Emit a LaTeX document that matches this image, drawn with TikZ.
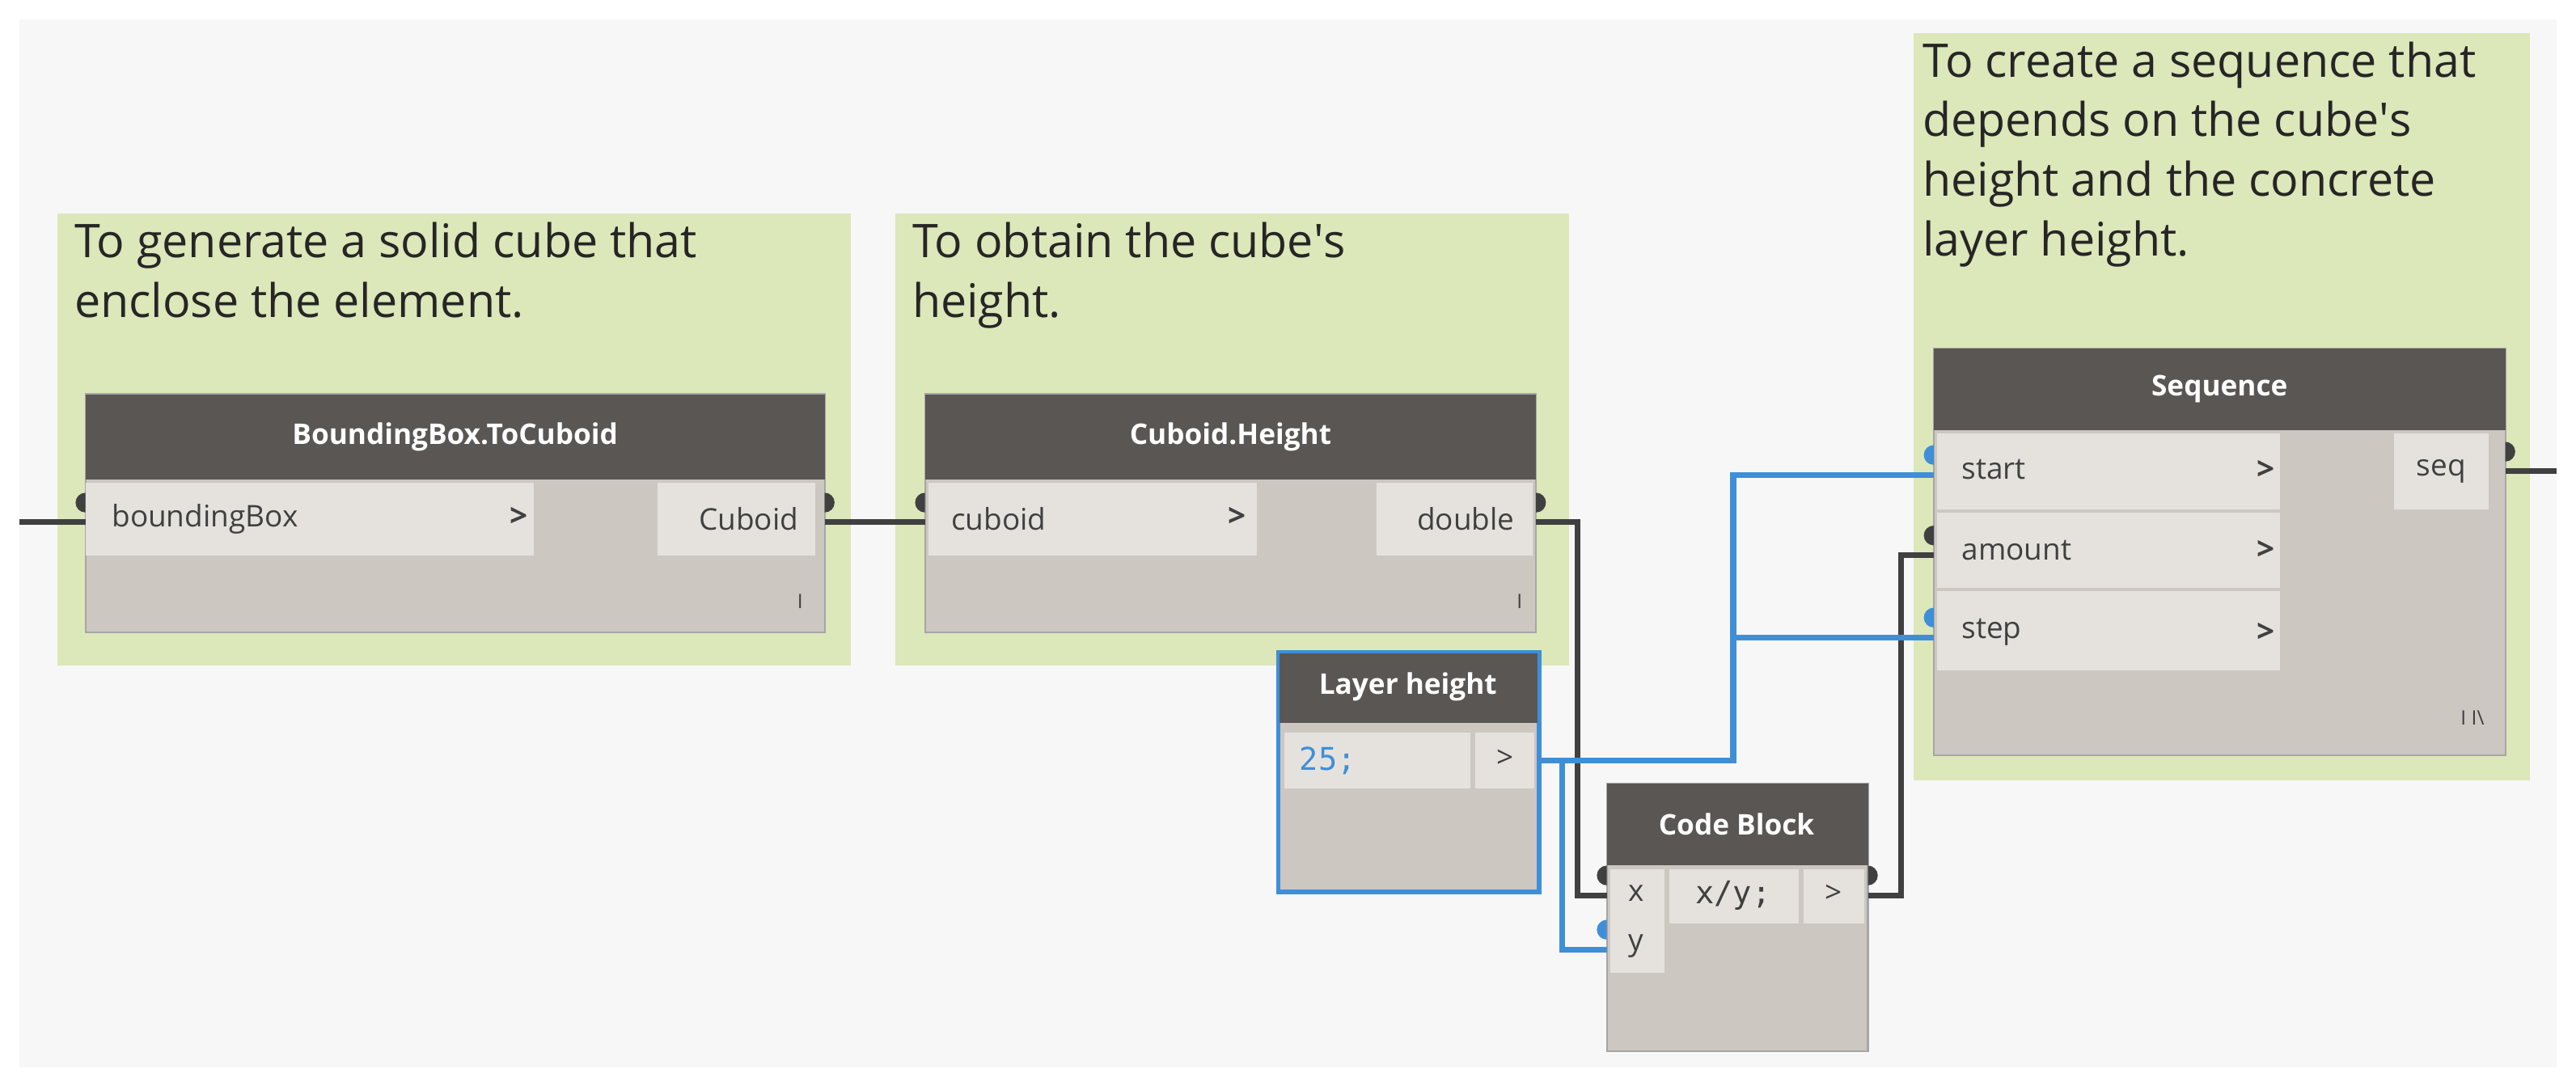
\documentclass[tikz,border=0pt]{standalone}
\usepackage{fontspec}
\setmainfont{Open Sans}
\newfontfamily\monof{DejaVu Sans Mono}
\begin{document}
\begin{tikzpicture}[x=0.0203cm,y=-0.0203cm,
  body/.style={fill=bodyc, draw=gray!70, line width=0.6pt},
  head/.style={fill=headc, draw=none},
  row/.style={fill=rowc, draw=none},
  htext/.style={text=white, font=\bfseries\fontsize{10}{12}\selectfont},
  ptext/.style={text=black!75, font=\fontsize{10.5}{12}\selectfont},
  ctext/.style={text=black!85, font=\fontsize{16.3}{21}\selectfont, align=left, anchor=north west, inner sep=0},
  wd/.style={draw=black!75, line width=2pt},
  wb/.style={draw=bluec, line width=2pt},
  arr/.style={font=\bfseries\fontsize{11}{12}\selectfont, text=black!75}]
\definecolor{bodyc}{HTML}{CCC7C1}
\definecolor{headc}{HTML}{5A5654}
\definecolor{rowc}{HTML}{E5E2DE}
\definecolor{bluec}{HTML}{3F8FD8}
\definecolor{grpc}{HTML}{DCE7BA}
\useasboundingbox (0,0) rectangle (1568,661);
\fill[white] (0,0) rectangle (1568,661);
\fill[black!3] (12,12) rectangle (1556,650);
% groups
\fill[grpc] (35,130) rectangle (518,405);
\fill[grpc] (545,130) rectangle (955,405);
\fill[grpc] (1165,20) rectangle (1540,475);
\node[ctext] (c1) at (45,135) {To generate a solid cube that\\enclose the element.};
\node[ctext] (c2) at (555,135) {To obtain the cube\textquotesingle s\\height.};
\node[ctext] (c3) at (1170,25) {To create a sequence that\\depends on the cube\textquotesingle s\\height and the concrete\\layer height.};
% BoundingBox.ToCuboid
\draw[body] (52,240) rectangle (502,385);
\fill[head] (52,240) rectangle (502,292);
\node[htext] (h1) at (277,266) {BoundingBox.ToCuboid};
\fill[row] (52,294) rectangle (325,338);
\node[ptext,anchor=west] (p1) at (62,316) {boundingBox};
\node[arr] at (316,315) {>};
\fill[row] (400,294) rectangle (496,338);
\node[ptext,anchor=east] (o1) at (492,316) {Cuboid};
\node[ptext,font=\fontsize{7}{8}\selectfont] at (487,366) {I};
% Cuboid.Height
\draw[body] (563,240) rectangle (935,385);
\fill[head] (563,240) rectangle (935,292);
\node[htext] (h2) at (749,266) {Cuboid.Height};
\fill[row] (565,294) rectangle (765,338);
\node[ptext,anchor=west] (p2) at (573,316) {cuboid};
\node[arr] at (753,315) {>};
\fill[row] (838,294) rectangle (933,338);
\node[ptext,anchor=east] (o2) at (928,316) {double};
\node[ptext,font=\fontsize{7}{8}\selectfont] at (925,366) {I};
% Sequence
\draw[body] (1177,212) rectangle (1525,460);
\fill[head] (1177,212) rectangle (1525,262);
\node[htext] (h3) at (1351,237) {Sequence};
\fill[row] (1179,264) rectangle (1388,310);
\fill[row] (1179,312) rectangle (1388,358);
\fill[row] (1179,360) rectangle (1388,408);
\node[ptext,anchor=west] (s1) at (1188,286) {start};
\node[ptext,anchor=west] (s2) at (1188,335) {amount};
\node[ptext,anchor=west] (s3) at (1188,385) {step};
\node[arr] at (1379,286) {>};
\node[arr] at (1379,335) {>};
\node[arr] at (1379,385) {>};
\fill[row] (1457,264) rectangle (1515,310);
\node[ptext] (o3) at (1486,287) {seq};
\node[ptext,font=\fontsize{7}{8}\selectfont] at (1505,437) {I I\textbackslash};
% Layer height
\draw[body,draw=bluec,line width=1.6pt] (778,397) rectangle (937,543);
\fill[head] (779,398) rectangle (936,440);
\node[htext] (h4) at (857,418) {Layer height};
\fill[row] (782,446) rectangle (895,480);
\node[text=bluec,anchor=west,font=\monof\fontsize{11}{12}\selectfont] (v4) at (785,463) {25;};
\fill[row] (898,446) rectangle (934,480);
\node[ptext] (o4) at (916,462) {>};
% Code Block
\draw[body] (978,477) rectangle (1137,640);
\fill[head] (978,477) rectangle (1137,527);
\node[htext] (h5) at (1057,502) {Code Block};
\fill[row] (980,529) rectangle (1013,592);
\node[ptext] (x5) at (996,544) {x};
\node[ptext] (y5) at (996,576) {y};
\fill[row] (1016,529) rectangle (1095,562);
\node[text=black!75,font=\monof\fontsize{11}{12}\selectfont] (e5) at (1055,545) {x/y;};
\fill[row] (1098,529) rectangle (1135,562);
\node[ptext] (o5) at (1116,544) {>};
% coordinates for wires
\coordinate (L0) at (12,318);
\coordinate (B1in) at (52,318);
\coordinate (B1out) at (502,318);
\coordinate (C2in) at (563,318);
\coordinate (C2out) at (935,318);
\coordinate (LHout) at (937,463);
\coordinate (CBx) at (978,545);
\coordinate (CBy) at (978,578);
\coordinate (CBout) at (1137,545);
\coordinate (Sst) at (1177,289);
\coordinate (Sam) at (1177,338);
\coordinate (Sstep) at (1177,388);
\coordinate (Sout) at (1525,287);
\coordinate (R0) at (1556,287);
% wires
\draw[wd] (L0) -- (B1in);
\draw[wd] (B1out) -- (C2in);
\draw[wd] (C2out) -- ++(25,0) |- (CBx);
\draw[wd] (CBout) -- ++(20,0) |- (Sam);
\draw[wd] (Sout) -- (R0);
\draw[wb] (LHout) -- ++(118,0) |- (Sst);
\draw[wb] (LHout) ++(118,0) |- (Sstep);
\draw[wb] (LHout) -- ++(14,0) |- (CBy);
% port markers
\foreach \p/\c in {B1in/black!75, C2in/black!75, CBx/black!75, Sam/black!75, CBy/bluec, Sst/bluec, Sstep/bluec}
  \fill[\c] (\p) ++(0,-6) arc (90:270:6) -- cycle;
\foreach \p in {B1out, C2out, CBout, Sout}
  \fill[black!75] (\p) ++(0,-6) arc (90:-90:6) -- cycle;
\end{tikzpicture}
\end{document}
